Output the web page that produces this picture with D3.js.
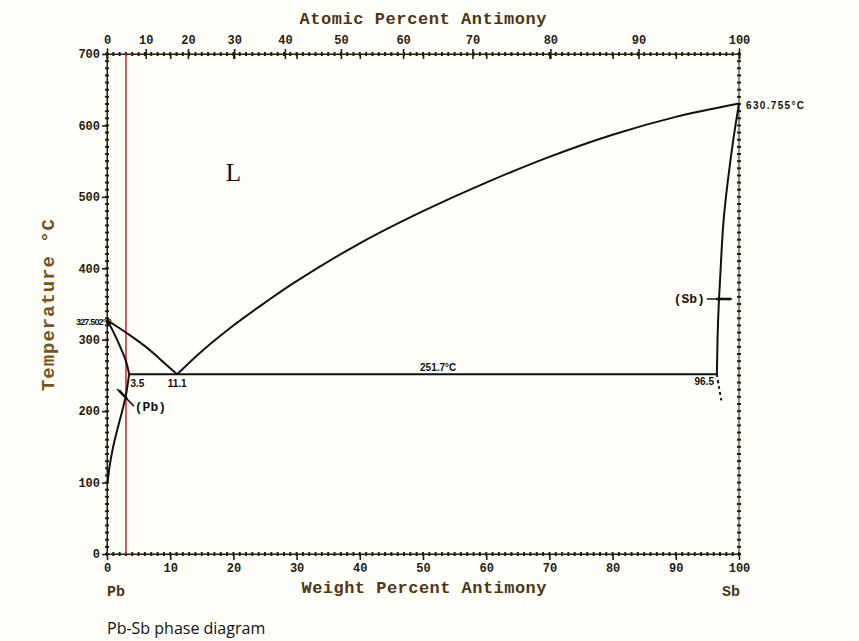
<!DOCTYPE html>
<html>
<head>
<meta charset="utf-8">
<script src="https://cdn.jsdelivr.net/npm/d3@7"></script>
<style>
  body { margin: 0; background: #fffef8; }
  svg { display: block; }
</style>
</head>
<body>
<svg id="chart" width="859" height="641"></svg>
<script>
// ---- Pb-Sb phase diagram data (weight % Sb, temperature °C) ----
const wtTicks = [0, 10, 20, 30, 40, 50, 60, 70, 80, 90, 100];
const atTicks = [0, 10, 20, 30, 40, 50, 60, 70, 80, 90, 100];
const tempTicks = [0, 100, 200, 300, 400, 500, 600, 700];

const massSb = 121.76;
const massPb = 207.2;

const meltPb = 327.502;
const meltSb = 630.755;
const eutecticT = 251.7;
const eutecticWt = 11.1;
const solubilityPbSide = 3.5;
const solubilitySbSide = 96.5;
const markerWt = 3;   // red composition line

// liquidus, Pb-rich branch
const liquidusPb = [[0, meltPb], [2, 316], [4, 304], [6, 291], [8, 276], [10, 260], [eutecticWt, eutecticT]];
// liquidus, Sb-rich branch
const liquidusSb = [[eutecticWt, eutecticT], [15, 284], [20, 320], [25, 352], [30, 382], [40, 435],
                    [50, 480], [60, 520], [70, 556], [80, 587], [90, 612], [100, meltSb]];
// (Pb) solidus and solvus
const solidusPb = [[0, meltPb], [1, 311], [2, 292], [3, 270], [solubilityPbSide, eutecticT]];
const solvusPb = [[solubilityPbSide, eutecticT], [3.05, 225], [2.4, 200], [1.6, 173], [0.9, 147], [0.4, 122], [0.1, 100]];
// (Sb) solidus and (uncertain) solvus
const solidusSb = [[solubilitySbSide, eutecticT], [96.6, 300], [96.8, 350], [97.1, 400], [97.5, 460],
                   [98.2, 520], [99.1, 580], [100, meltSb]];
const solvusSb = [[solubilitySbSide, eutecticT], [96.8, 235], [97.2, 215]];

// ---- layout ----
const svg = d3.select("#chart");
const ink = "#241c10";
const brown = "#4e3515";
svg.append("rect").attr("width", 859).attr("height", 641).attr("fill", "#fffef8");

const x = d3.scaleLinear().domain([0, 100]).range([107, 739]);
const y = d3.scaleLinear().domain([0, 700]).range([554, 54]);
// atomic % -> weight % Sb
const atToWt = a => 100 * a * massSb / (a * massSb + (100 - a) * massPb);

const mono = "'Liberation Mono', 'DejaVu Sans Mono', monospace";

// frame lines
const frame = svg.append("g").attr("stroke", ink).attr("stroke-width", 1);
frame.append("line").attr("x1", x(0)).attr("x2", x(100)).attr("y1", y(0)).attr("y2", y(0));
frame.append("line").attr("x1", x(0)).attr("x2", x(100)).attr("y1", y(700)).attr("y2", y(700));
frame.append("line").attr("x1", x(0)).attr("x2", x(0)).attr("y1", y(0)).attr("y2", y(700));
frame.append("line").attr("x1", x(100)).attr("x2", x(100)).attr("y1", y(0)).attr("y2", y(700));

// dotted minor ticks along the frame
const dots = svg.append("g").attr("stroke", ink).attr("stroke-width", 2);
d3.range(0, 101, 1).forEach(w => {
  [y(0), y(700)].forEach(yy => dots.append("line")
    .attr("x1", x(w)).attr("x2", x(w)).attr("y1", yy - 2).attr("y2", yy + 2));
});
d3.range(0, 701, 10).forEach(t => {
  [x(0), x(100)].forEach(xx => dots.append("line")
    .attr("x1", xx - 2).attr("x2", xx + 2).attr("y1", y(t)).attr("y2", y(t)));
});

// bottom axis: weight percent
svg.append("g").attr("transform", `translate(0,${y(0)})`)
  .call(d3.axisBottom(x).tickValues(wtTicks).tickSize(6).tickPadding(3).tickFormat(d3.format("d")));
// top axis: atomic percent, placed at equivalent weight %
const topAxis = svg.append("g").attr("transform", `translate(0,${y(700)})`);
topAxis.call(d3.axisTop(x).tickValues(atTicks.map(atToWt)).tickSize(6).tickPadding(4)
  .tickFormat((d, i) => atTicks[i]));
topAxis.selectAll(".tick line").attr("y2", 5).attr("y1", -5);
// downward weight-% marks on the top edge
svg.append("g").attr("transform", `translate(0,${y(700)})`)
  .call(d3.axisBottom(x).tickValues(wtTicks).tickSize(5).tickFormat(""))
  .select(".domain").remove();
// left axis: temperature
svg.append("g").attr("transform", `translate(${x(0)},0)`)
  .call(d3.axisLeft(y).tickValues(tempTicks).tickSize(5).tickPadding(2).tickFormat(d3.format("d")));

svg.selectAll(".domain").attr("stroke", ink).attr("stroke-width", 1);
svg.selectAll(".tick line").attr("stroke", ink).attr("stroke-width", 1.6);
svg.selectAll(".tick text").attr("fill", ink).attr("font-family", mono)
  .attr("font-weight", "bold").attr("font-size", 12);

// axis titles
svg.append("text").attr("x", 423).attr("y", 24).attr("text-anchor", "middle")
  .attr("font-family", mono).attr("font-weight", "bold").attr("font-size", 17)
  .attr("textLength", 247).attr("fill", brown).text("Atomic Percent Antimony");
svg.append("text").attr("x", 424).attr("y", 593).attr("text-anchor", "middle")
  .attr("font-family", mono).attr("font-weight", "bold").attr("font-size", 17)
  .attr("textLength", 245).attr("fill", brown).text("Weight Percent Antimony");
svg.append("text").attr("transform", "translate(54,305) rotate(-90)").attr("text-anchor", "middle")
  .attr("font-family", mono).attr("font-weight", "bold").attr("font-size", 19)
  .attr("textLength", 172).attr("fill", "#7a5222").text("Temperature °C");
svg.append("text").attr("x", x(0)).attr("y", 596).attr("font-family", mono).attr("font-weight", "bold")
  .attr("font-size", 15).attr("fill", brown).text("Pb");
svg.append("text").attr("x", x(100) + 1).attr("y", 596).attr("text-anchor", "end").attr("font-family", mono)
  .attr("font-weight", "bold").attr("font-size", 15).attr("fill", brown).text("Sb");

// red composition marker
svg.append("line").attr("x1", x(markerWt)).attr("x2", x(markerWt)).attr("y1", y(700)).attr("y2", y(0))
  .attr("stroke", "#e8242a").attr("stroke-width", 1.6);

// phase boundaries
const line = d3.line().x(d => x(d[0])).y(d => y(d[1])).curve(d3.curveCatmullRom.alpha(0.5));
const smooth = d3.line().x(d => x(d[0])).y(d => y(d[1])).curve(d3.curveNatural);
const curves = svg.append("g").attr("fill", "none").attr("stroke", "#111").attr("stroke-width", 2);
[liquidusSb, solidusPb].forEach(c => curves.append("path").attr("d", line(c)));
[liquidusPb, solvusPb, solidusSb].forEach(c => curves.append("path").attr("d", smooth(c)));
curves.append("path").attr("d", line(solvusSb)).attr("stroke-dasharray", "3,3");
// eutectic isotherm
curves.append("line").attr("x1", x(solubilityPbSide)).attr("x2", x(solubilitySbSide))
  .attr("y1", y(eutecticT)).attr("y2", y(eutecticT));

// phase labels and leaders
const lab = svg.append("g").attr("fill", "#111").attr("font-family", mono).attr("font-weight", "bold");
lab.append("text").attr("x", x(20)).attr("y", y(eutecticT + 270)).attr("text-anchor", "middle")
  .attr("font-family", "'Liberation Serif', serif").attr("font-weight", "normal").attr("font-size", 25).text("L");
lab.append("text").attr("x", x(4.4)).attr("y", y(200)).attr("font-size", 13).text("(Pb)");
lab.append("text").attr("x", x(94.6)).attr("y", y(351)).attr("text-anchor", "end").attr("font-size", 13).text("(Sb)");

const leaders = svg.append("g").attr("stroke", "#111");
leaders.append("line").attr("x1", x(1.58)).attr("y1", y(231)).attr("x2", x(4.27)).attr("y2", y(207))
  .attr("stroke-width", 1.5);
leaders.append("line").attr("x1", x(1.9)).attr("y1", y(229)).attr("x2", x(3.2)).attr("y2", y(217))
  .attr("stroke-width", 2.5);
leaders.append("line").attr("x1", x(94.9)).attr("y1", y(357)).attr("x2", x(98.9)).attr("y2", y(357))
  .attr("stroke-width", 1.5);
leaders.append("line").attr("x1", x(96.4)).attr("y1", y(357)).attr("x2", x(98.7)).attr("y2", y(357))
  .attr("stroke-width", 2.6);

// numeric annotations
const small = svg.append("g").attr("fill", "#111").attr("font-family", "'Liberation Sans', Arial, sans-serif")
  .attr("font-weight", "bold");
small.append("text").attr("x", x(0) + 5).attr("y", y(meltPb) + 5).attr("text-anchor", "end")
  .attr("font-size", 9).attr("textLength", 36).text(`${meltPb}°C`);
small.append("text").attr("x", x(100) + 7).attr("y", y(meltSb) + 6)
  .attr("font-size", 10).attr("textLength", 58).text(`${meltSb}°C`);
small.append("text").attr("x", x(52.4)).attr("y", y(eutecticT) - 3).attr("text-anchor", "middle")
  .attr("font-size", 10).text(`${eutecticT}°C`);
small.append("text").attr("x", x(4.8)).attr("y", y(eutecticT) + 13).attr("text-anchor", "middle")
  .attr("font-size", 10).text(`${solubilityPbSide}`);
small.append("text").attr("x", x(eutecticWt)).attr("y", y(eutecticT) + 13).attr("text-anchor", "middle")
  .attr("font-size", 10).text(`${eutecticWt}`);
small.append("text").attr("x", x(94.5)).attr("y", y(eutecticT) + 11).attr("text-anchor", "middle")
  .attr("font-size", 10).text(`${solubilitySbSide}`);

// caption
svg.append("text").attr("x", 107).attr("y", 634)
  .attr("font-family", "'Open Sans', 'Noto Sans', sans-serif").attr("font-size", 16).attr("fill", "#111")
  .text("Pb-Sb phase diagram");
</script>
</body>
</html>
